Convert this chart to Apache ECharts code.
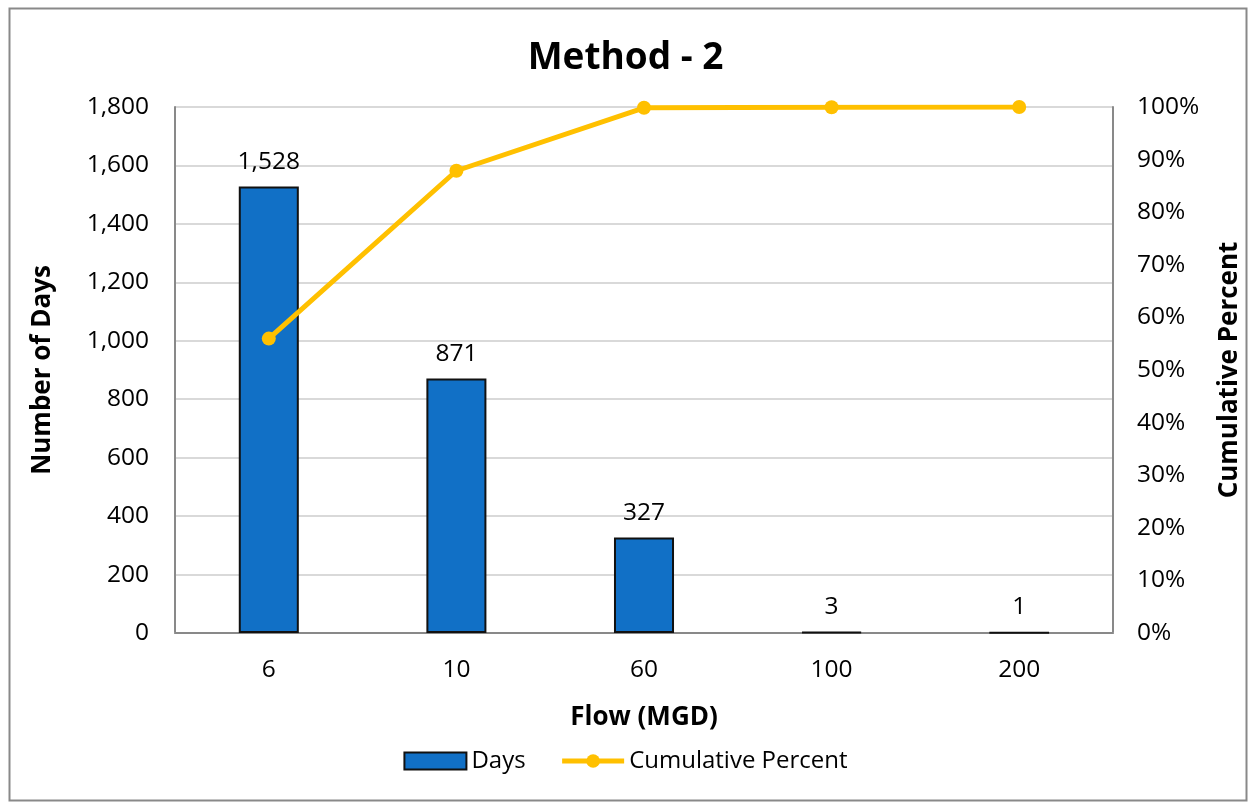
<!DOCTYPE html>
<html><head><meta charset="utf-8">
<script src="https://cdn.jsdelivr.net/npm/echarts@6/dist/echarts.min.js"></script>
<style>html,body{margin:0;padding:0;background:#fff}#c{width:1251px;height:804px}</style>
</head><body><div id="c"></div>
<script>
const categories = ['6', '10', '60', '100', '200'];
const days = [1528, 871, 327, 3, 1];
const cumulativePercent = [0.5597, 0.8788, 0.9985, 0.9996, 1.0];
const leftTicks = {min: 0, max: 1800, interval: 200};
const rightTicks = {min: 0, max: 1, interval: 0.1};

const FONT = 'Open Sans';
const TICK = 24.5;
const NAME = 26;
const chart = echarts.init(document.getElementById('c'), null, {renderer: 'canvas'});
chart.setOption({
  backgroundColor: '#fff',
  textStyle: {fontFamily: FONT},
  title: {text: 'Method - 2', left: 'center', top: 35,
    textStyle: {fontFamily: FONT, fontWeight: 'bold', fontSize: 37, color: '#000'}},
  graphic: [{type: 'rect', left: 7, top: 6, shape: {width: 1237, height: 792},
    style: {fill: 'none', stroke: '#898989', lineWidth: 2}, silent: true}],
  grid: {left: 175, right: 136, top: 107, bottom: 171},
  legend: {bottom: 26, left: 'center', itemGap: 34, itemWidth: 62, itemHeight: 17,
    textStyle: {fontFamily: FONT, fontSize: 24, color: '#000'},
    data: [{name: 'Days', icon: 'rect', itemStyle: {borderColor: '#111', borderWidth: 2}},
           {name: 'Cumulative Percent', lineStyle: {width: 5, color: '#FFC000'}}]},
  xAxis: [{type: 'category', data: categories, position: 'bottom',
    axisLine: {show: true, lineStyle: {color: '#d9d9d9', width: 2}},
    axisTick: {show: false},
    axisLabel: {fontFamily: FONT, fontSize: TICK, color: '#000', margin: 25},
    name: 'Flow (MGD)', nameLocation: 'middle', nameGap: 72,
    nameTextStyle: {fontFamily: FONT, fontWeight: 'bold', fontSize: NAME, color: '#000'}},
   {type: 'category', data: categories, position: 'top',
    axisLine: {show: true, lineStyle: {color: '#898989', width: 2}},
    axisTick: {show: false}, axisLabel: {show: false}, splitLine: {show: false}}],
  yAxis: [{type: 'value', min: leftTicks.min, max: leftTicks.max, interval: leftTicks.interval,
    axisLine: {show: true, lineStyle: {color: '#898989', width: 2}},
    axisTick: {show: false},
    splitLine: {lineStyle: {color: '#d9d9d9', width: 2}},
    axisLabel: {fontFamily: FONT, fontSize: TICK, color: '#000', margin: 26,
      formatter: v => v.toLocaleString('en-US')},
    name: 'Number of Days', nameLocation: 'middle', nameGap: 119, nameRotate: 90,
    nameTextStyle: {fontFamily: FONT, fontWeight: 'bold', fontSize: NAME, color: '#000'}},
   {type: 'value', min: rightTicks.min, max: rightTicks.max, interval: rightTicks.interval,
    position: 'right',
    axisLine: {show: true, lineStyle: {color: '#898989', width: 2}},
    axisTick: {show: false}, splitLine: {show: false},
    axisLabel: {fontFamily: FONT, fontSize: TICK, color: '#000', margin: 24,
      formatter: v => Math.round(v * 100) + '%'},
    name: 'Cumulative Percent', nameLocation: 'middle', nameGap: 104, nameRotate: 90,
    nameTextStyle: {fontFamily: FONT, fontWeight: 'bold', fontSize: NAME, color: '#000'}}],
  series: [{name: 'Days', type: 'bar', data: days, barWidth: '32%', yAxisIndex: 0,
    itemStyle: {color: '#1170C6', borderColor: '#111', borderWidth: 2},
    label: {show: true, position: 'top', distance: 12, fontFamily: FONT, fontSize: TICK, color: '#000',
      formatter: p => p.value.toLocaleString('en-US')}},
   {name: 'Cumulative Percent', type: 'line', data: cumulativePercent, yAxisIndex: 1,
    symbol: 'circle', symbolSize: 14,
    lineStyle: {color: '#FFC000', width: 5}, itemStyle: {color: '#FFC000'}}]
});
</script></body></html>
